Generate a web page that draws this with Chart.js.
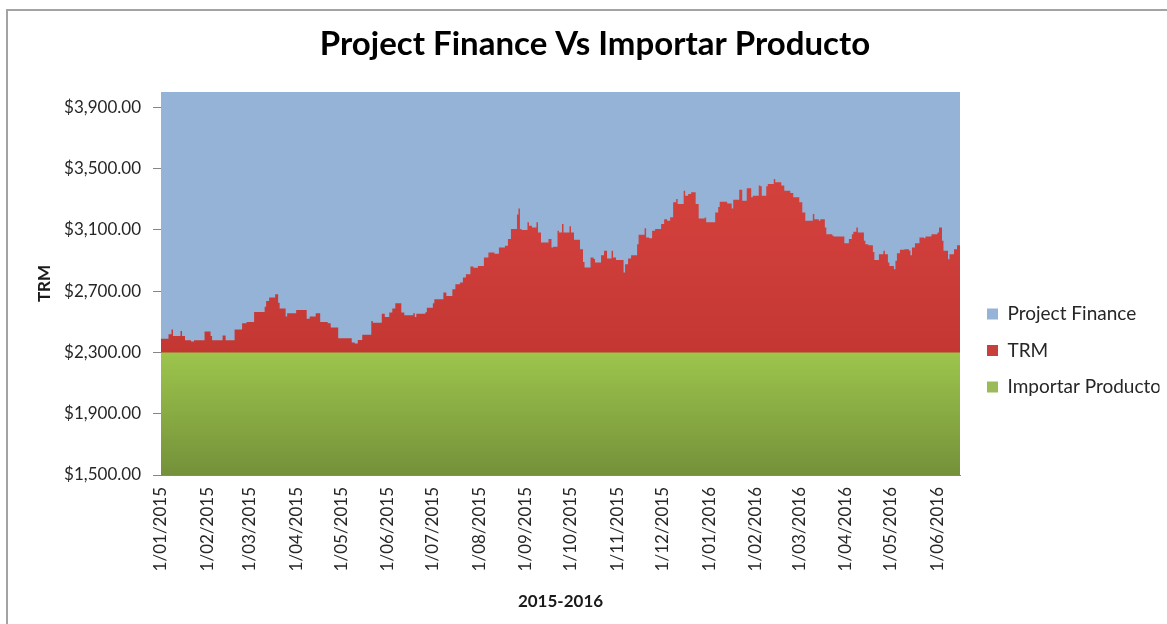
<!DOCTYPE html>
<html>
<head>
<meta charset="utf-8">
<script src="https://cdn.jsdelivr.net/npm/chart.js"></script>
<style>
html, body { margin: 0; padding: 0; background: #ffffff; overflow: hidden; }
#frame { position: absolute; left: 6px; top: 9px; width: 1300px; height: 800px; border: 2px solid #a3a3a3; }
#c { position: absolute; left: 0; top: 0; }
</style>
</head>
<body>
<div id="frame"></div>
<canvas id="c" width="1167" height="624"></canvas>
<script>
// ---------- data ----------
const titleText = 'Project Finance Vs Importar Producto';
const xAxisTitle = '2015-2016';
const yAxisTitle = 'TRM';
const seriesNames = ['Project Finance', 'TRM', 'Importar Producto'];

// Day offsets from 1/01/2015 where the daily TRM value changes, and the value from that day on
const trmDays = [
  0, 5, 7, 8, 13, 14, 16, 20, 22, 29,
  33, 34, 41, 43, 49, 54, 57, 62, 69, 70,
  72, 76, 78, 79, 83, 84, 90, 97, 99, 103,
  106, 111, 113, 118, 127, 129, 131, 134, 140, 141,
  147, 149, 152, 154, 156, 160, 162, 168, 169, 170,
  176, 177, 181, 182, 188, 190, 194, 196, 199, 201,
  203, 206, 208, 211, 215, 218, 222, 225, 229, 231,
  233, 237, 238, 239, 240, 244, 245, 247, 250, 251,
  253, 258, 260, 261, 264, 265, 267, 268, 272, 273,
  275, 279, 281, 282, 286, 288, 289, 293, 295, 297,
  300, 301, 303, 308, 309, 311, 313, 317, 318, 322,
  323, 325, 327, 329, 333, 335, 337, 339, 341, 343,
  344, 348, 349, 351, 353, 356, 358, 362, 363, 369,
  371, 372, 377, 380, 381, 385, 387, 390, 393, 394,
  398, 399, 400, 403, 404, 408, 409, 413, 415, 419,
  421, 425, 427, 429, 434, 435, 438, 439, 442, 443,
  447, 448, 455, 458, 460, 461, 463, 464, 468, 469,
  471, 474, 475, 478, 481, 482, 484, 485, 488, 489,
  490, 492, 495, 498, 499, 500, 502, 505, 508, 509,
  513, 517, 518, 520, 521, 524, 525, 528, 530, 532
];
const trmValues = [
  2390, 2418, 2450, 2407, 2440, 2407, 2380, 2372, 2380, 2437,
  2407, 2380, 2411, 2380, 2450, 2490, 2498, 2564, 2599, 2636,
  2658, 2680, 2625, 2586, 2534, 2555, 2577, 2520, 2535, 2555,
  2498, 2490, 2462, 2392, 2365, 2359, 2381, 2416, 2505, 2494,
  2553, 2531, 2560, 2586, 2621, 2560, 2542, 2555, 2531, 2553,
  2562, 2592, 2621, 2647, 2691, 2668, 2712, 2745, 2756, 2789,
  2811, 2861, 2852, 2865, 2920, 2953, 2945, 2985, 2996, 3040,
  3105, 3201, 3239, 3105, 3100, 3149, 3127, 3116, 3149, 3083,
  3018, 3040, 2985, 2990, 3095, 3083, 3138, 3083, 3123, 3083,
  3035, 2974, 2891, 2854, 2920, 2910, 2887, 2935, 2963, 2913,
  2963, 2920, 2904, 2822, 2876, 2913, 2935, 3007, 3068, 3110,
  3051, 3045, 3094, 3105, 3138, 3170, 3160, 3182, 3280, 3301,
  3269, 3356, 3323, 3334, 3345, 3269, 3175, 3180, 3149, 3214,
  3250, 3284, 3273, 3240, 3297, 3362, 3290, 3371, 3313, 3323,
  3389, 3384, 3323, 3384, 3400, 3432, 3411, 3389, 3356, 3341,
  3313, 3280, 3214, 3159, 3203, 3170, 3160, 3170, 3116, 3072,
  3061, 3057, 3013, 3040, 3072, 3088, 3116, 3083, 3029, 3007,
  3000, 2956, 2904, 2941, 2963, 2941, 2887, 2865, 2843, 2898,
  2948, 2970, 2974, 2965, 2935, 2985, 3013, 3051, 3045, 3057,
  3072, 3083, 3116, 3029, 2963, 2909, 2941, 2974, 3000, 3000
];

// Constant series over the whole period (first and last day)
const rangeDays = [0, 532];
const projectFinance = [4000, 4000];
const importarProducto = [2300, 2300];

// Axis ticks
const monthTickDays = [0, 31, 59, 90, 120, 151, 181, 212, 243, 273, 304, 334, 365, 396, 425, 456, 486, 517];
const monthTickLabels = ['1/01/2015', '1/02/2015', '1/03/2015', '1/04/2015', '1/05/2015', '1/06/2015',
  '1/07/2015', '1/08/2015', '1/09/2015', '1/10/2015', '1/11/2015', '1/12/2015',
  '1/01/2016', '1/02/2016', '1/03/2016', '1/04/2016', '1/05/2016', '1/06/2016'];
const yTickValues = [1500, 1900, 2300, 2700, 3100, 3500, 3900];
const yMin = 1500;
const yMax = 4000;

// ---------- styles ----------
const legendSwatch = ['#95B3D7', '#C8403C', '#9BBB59'];

function vGrad(chart, stops, fallback) {
  const a = chart.chartArea;
  if (!a) return fallback;
  const g = chart.ctx.createLinearGradient(0, a.top, 0, a.bottom);
  stops.forEach(s => g.addColorStop(s[0], s[1]));
  return g;
}

function toPoints(xs, ys) { return xs.map((x, i) => ({ x: x, y: ys[i] })); }

Chart.defaults.font.family = "Lato, 'Liberation Sans', sans-serif";
Chart.defaults.color = '#262626';

new Chart(document.getElementById('c'), {
  type: 'line',
  data: {
    datasets: [
      {
        label: seriesNames[0],
        data: toPoints(rangeDays, projectFinance),
        order: 3,
        fill: 'start',
        backgroundColor: '#95B3D7',
        borderColor: 'rgba(0,0,0,0)',
        borderWidth: 0,
        pointRadius: 0,
        yAxisID: 'y'
      },
      {
        label: seriesNames[1],
        data: toPoints(trmDays, trmValues),
        order: 2,
        stepped: true,
        fill: 'start',
        backgroundColor: (ctx) => vGrad(ctx.chart, [[0, '#D8453F'], [0.4, '#CF3E3A'], [0.68, '#C33733'], [1, '#B22E2B']], '#C8403C'),
        borderColor: 'rgba(0,0,0,0)',
        borderWidth: 0,
        pointRadius: 0,
        yAxisID: 'y'
      },
      {
        label: seriesNames[2],
        data: toPoints(rangeDays, importarProducto),
        order: 1,
        fill: 'start',
        backgroundColor: (ctx) => vGrad(ctx.chart, [[0, '#A2CA50'], [0.68, '#9DC54C'], [1, '#74913A']], '#9BBB59'),
        borderColor: 'rgba(0,0,0,0)',
        borderWidth: 0,
        pointRadius: 0,
        yAxisID: 'y'
      }
    ]
  },
  options: {
    responsive: false,
    animation: false,
    devicePixelRatio: 1,
    layout: { padding: { left: 30.5, right: 7.5, top: 0, bottom: 0 } },
    plugins: {
      tooltip: { enabled: false },
      title: {
        display: true,
        text: titleText,
        color: '#000000',
        font: { size: 33, weight: 'bold' },
        padding: { top: 25, bottom: 27.4 }
      },
      legend: {
        position: 'right',
        align: 'center',
        maxWidth: 190,
        title: { display: true, text: ' ', font: { size: 10 }, padding: { top: 65, bottom: 0 } },
        labels: {
          boxWidth: 11,
          boxHeight: 11,
          padding: 17.5,
          color: '#262626',
          font: { size: 19 },
          sort: (a, b) => a.datasetIndex - b.datasetIndex,
          generateLabels: (chart) => Chart.defaults.plugins.legend.labels.generateLabels(chart).map(item => Object.assign({}, item, {
            fillStyle: legendSwatch[item.datasetIndex],
            strokeStyle: legendSwatch[item.datasetIndex],
            lineWidth: 0
          }))
        }
      }
    },
    scales: {
      x: {
        type: 'linear',
        min: rangeDays[0],
        max: rangeDays[1],
        afterBuildTicks: (s) => { s.ticks = monthTickDays.map(v => ({ value: v })); },
        afterFit: (s) => { s.height = 149; },
        ticks: {
          autoSkip: false,
          minRotation: 90,
          maxRotation: 90,
          padding: 12,
          color: '#262626',
          font: { size: 17 },
          callback: (v, i) => monthTickLabels[i]
        },
        grid: { display: true, drawOnChartArea: false, drawTicks: false, color: '#868686' },
        border: { display: true, color: '#868686', width: 1 },
        title: {
          display: true,
          text: xAxisTitle,
          color: '#1a1a1a',
          font: { size: 17, weight: 'bold' },
          padding: { top: 0, bottom: 12 }
        }
      },
      y: {
        type: 'linear',
        position: 'left',
        min: yMin,
        max: yMax,
        afterBuildTicks: (s) => { s.ticks = yTickValues.map(v => ({ value: v })); },
        afterFit: (s) => { s.width = 130.5; },
        ticks: {
          padding: 12,
          color: '#262626',
          font: { size: 17 },
          callback: (v) => '$' + Number(v).toLocaleString('en-US', { minimumFractionDigits: 2, maximumFractionDigits: 2 })
        },
        grid: { display: true, drawOnChartArea: false, drawTicks: true, tickLength: 8, color: '#868686' },
        border: { display: true, color: '#868686', width: 1 },
        title: {
          display: true,
          text: yAxisTitle,
          color: '#1a1a1a',
          font: { size: 17, weight: 'bold' },
          padding: { top: 4.3, bottom: 0 }
        }
      },
      yR: {
        type: 'linear',
        position: 'right',
        display: true,
        afterFit: (s) => { s.width = 9.5; },
        ticks: { display: false },
        grid: { display: false, drawTicks: false },
        border: { display: false }
      }
    }
  }
});
</script>
</body>
</html>
